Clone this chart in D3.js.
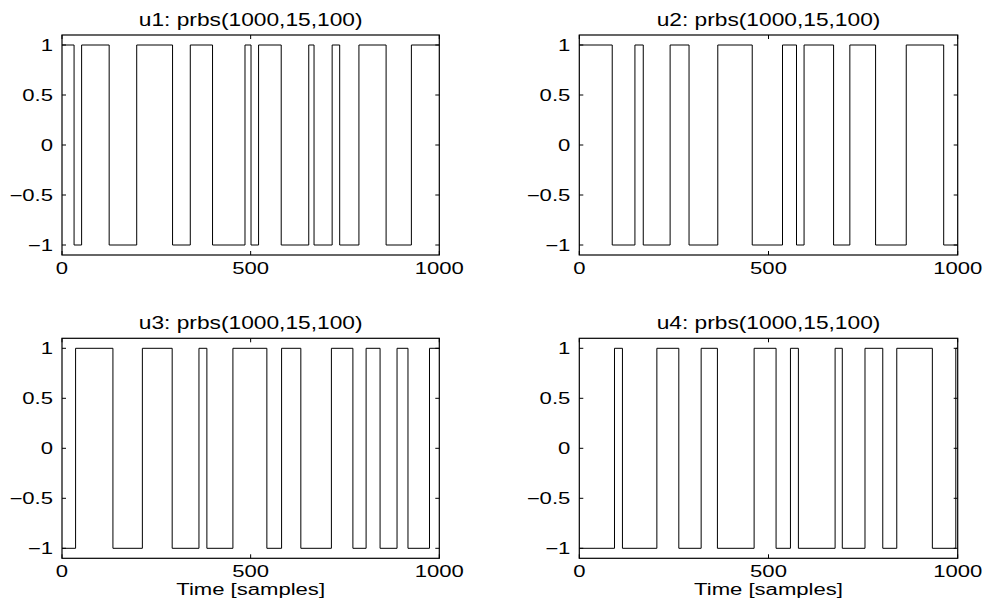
<!DOCTYPE html>
<html>
<head>
<meta charset="utf-8">
<script src="https://cdn.jsdelivr.net/npm/d3@7"></script>
<style>
  html, body { margin: 0; padding: 0; background: #fff; }
  svg { display: block; }
  text { font-family: "Liberation Sans", Arial, Helvetica, sans-serif; fill: #000; }
</style>
</head>
<body>
<script>
// ---- data (switching instants and levels) ----
const titles = ["u1: prbs(1000,15,100)", "u2: prbs(1000,15,100)", "u3: prbs(1000,15,100)", "u4: prbs(1000,15,100)"];
const u1Times = [0, 32, 52, 125, 198, 293, 340, 399, 485, 501, 521, 581, 654, 668, 716, 736, 787, 859, 926];
const u1Levels = [1, -1, 1, -1, 1, -1, 1, -1, 1, -1, 1, -1, 1, -1, 1, -1, 1, -1, 1];
const u2Times = [0, 87, 147, 169, 240, 290, 366, 457, 537, 574, 594, 672, 715, 783, 864, 963];
const u2Levels = [1, -1, 1, -1, 1, -1, 1, -1, 1, -1, 1, -1, 1, -1, 1, -1];
const u3Times = [0, 36, 135, 213, 292, 363, 384, 453, 543, 582, 633, 714, 771, 806, 843, 888, 917, 974];
const u3Levels = [-1, 1, -1, 1, -1, 1, -1, 1, -1, 1, -1, 1, -1, 1, -1, 1, -1, 1];
const u4Times = [0, 93, 114, 205, 263, 322, 365, 462, 520, 558, 579, 676, 695, 755, 802, 839, 933, 995];
const u4Levels = [-1, 1, -1, 1, -1, 1, -1, 1, -1, 1, -1, 1, -1, 1, -1, 1, -1, 1];
const xTicks = [0, 500, 1000];
const yTicks = [-1, -0.5, 0, 0.5, 1];
const yTickLabels = ["\u22121", "\u22120.5", "0", "0.5", "1"];
const xLabel = "Time [samples]";
const nSamples = 1000;

const series = [
  {times: u1Times, levels: u1Levels},
  {times: u2Times, levels: u2Levels},
  {times: u3Times, levels: u3Levels},
  {times: u4Times, levels: u4Levels}
];

// ---- layout ----
const W = 987, H = 605;
const cols = [[62, 439.3], [579.3, 957.7]];
const rows = [[35, 255], [338.3, 558.3]];
const SX = 1.38;     // horizontal text stretch of the reference
const FS = 16;       // tick / label font size
const TSX = 1.3;
const TFS = 17.5;    // title font size

const svg = d3.select("body").append("svg").attr("width", W).attr("height", H);

function label(g, x, y, str, anchor, size, sx) {
  return g.append("text")
    .attr("transform", `translate(${x},${y}) scale(${sx},1)`)
    .attr("text-anchor", anchor)
    .style("font-size", size + "px")
    .text(str);
}

series.forEach((s, i) => {
  const r = Math.floor(i / 2), c = i % 2;
  const [x0, x1] = cols[c];
  const [y0, y1] = rows[r];
  const x = d3.scaleLinear().domain([0, nSamples]).range([x0, x1]);
  const y = d3.scaleLinear().domain([-1.1, 1.1]).range([y1, y0]);
  const g = svg.append("g");

  // signal (zero-order hold)
  const pts = s.times.map((t, k) => [t, s.levels[k]]);
  pts.push([nSamples, s.levels[s.levels.length - 1]]);
  const line = d3.line().x(d => x(d[0])).y(d => y(d[1])).curve(d3.curveStepAfter);
  g.append("path").attr("d", line(pts))
    .attr("fill", "none").attr("stroke", "#000").attr("stroke-width", 1);

  // box
  g.append("rect").attr("x", x0).attr("y", y0).attr("width", x1 - x0).attr("height", y1 - y0)
    .attr("fill", "none").attr("stroke", "#000").attr("stroke-width", 1.2);

  // ticks (inward, on all four sides)
  const tl = 4;
  xTicks.forEach(t => {
    const xp = x(t);
    g.append("line").attr("x1", xp).attr("x2", xp).attr("y1", y1).attr("y2", y1 - tl).attr("stroke", "#000");
    g.append("line").attr("x1", xp).attr("x2", xp).attr("y1", y0).attr("y2", y0 + tl).attr("stroke", "#000");
    label(g, xp, y1 + 19, String(t), "middle", FS, SX);
  });
  yTicks.forEach((t, k) => {
    const yp = y(t);
    g.append("line").attr("x1", x0).attr("x2", x0 + tl).attr("y1", yp).attr("y2", yp).attr("stroke", "#000");
    g.append("line").attr("x1", x1).attr("x2", x1 - tl).attr("y1", yp).attr("y2", yp).attr("stroke", "#000");
    label(g, x0 - 9, yp + 6, yTickLabels[k], "end", FS, SX);
  });

  // title
  label(g, (x0 + x1) / 2, y0 - 9, titles[i], "middle", TFS, TSX);

  // x label on the bottom row
  if (r === 1) label(g, (x0 + x1) / 2, y1 + 37, xLabel, "middle", FS, SX);
});
</script>
</body>
</html>
